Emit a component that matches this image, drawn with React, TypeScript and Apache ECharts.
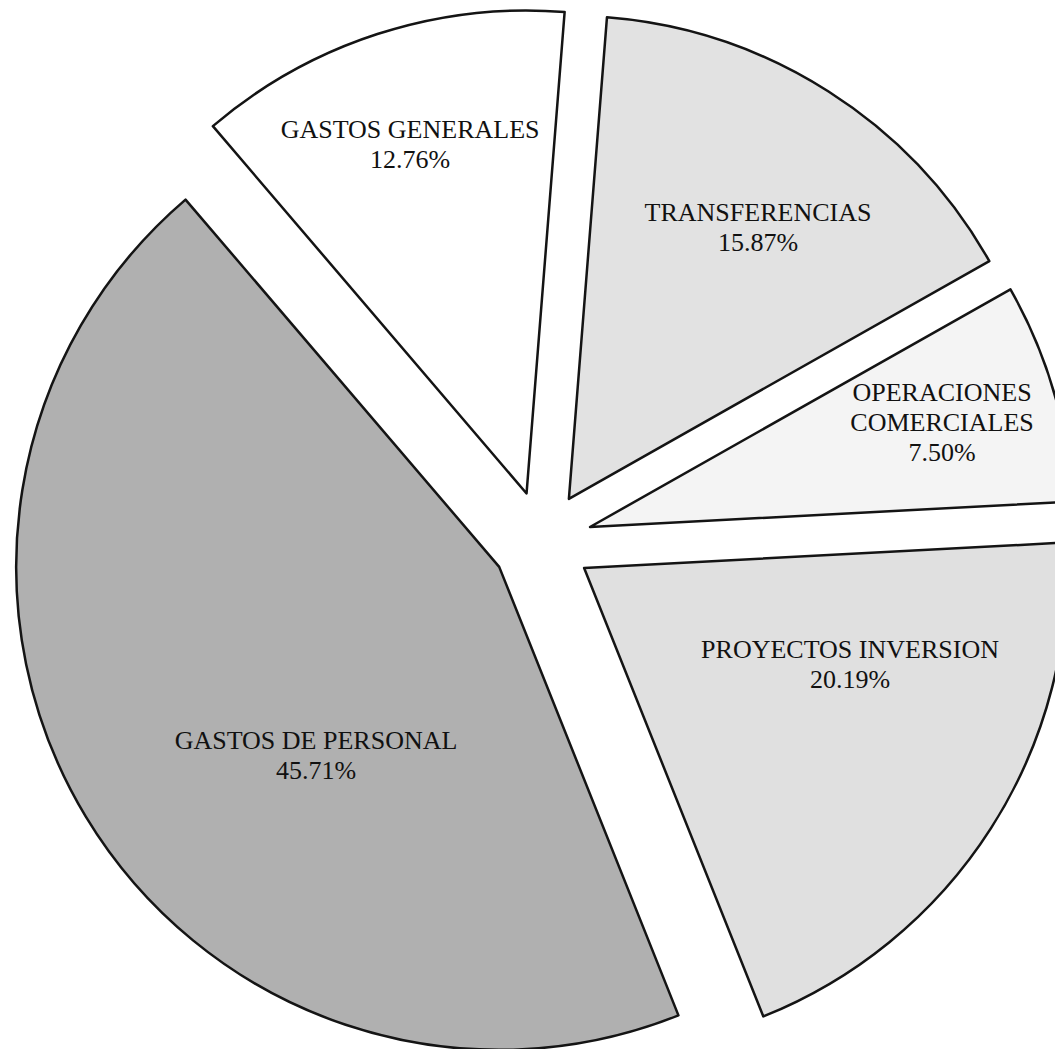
import React, { useEffect, useRef } from "react";
import * as echarts from "echarts";

const CATEGORIES = [
  "GASTOS GENERALES",
  "TRANSFERENCIAS",
  "OPERACIONES COMERCIALES",
  "PROYECTOS INVERSION",
  "GASTOS DE PERSONAL",
];
const PERCENTAGES = [12.76, 15.87, 7.5, 20.19, 45.71];

const COLORS = ["#ffffff", "#e2e2e2", "#f4f4f4", "#e0e0e0", "#b0b0b0"];
// label placement (fraction of radius, angle in degrees) measured from each slice's apex
const LABEL_RADIUS = [0.7625, 0.684, 0.76, 0.586, 0.545];
const LABEL_ANGLE = [108.44, 55.08, 16.46, -20.04, 225.9];

const START_ANGLE = 130.5;
const RADIUS = 483;
const OFFSET = 50;
const CENTER = [542, 541];

function wrapName(name: string): string {
  return name.length > 20 ? name.replace(" ", "\n") : name;
}

export default function App() {
  const ref = useRef<HTMLDivElement>(null);
  useEffect(() => {
    const chart = echarts.init(ref.current!, null, { renderer: "svg" });
    const total = PERCENTAGES.reduce((a, b) => a + b, 0);
    let acc = START_ANGLE;
    const labelPos: number[][] = [];
    CATEGORIES.forEach((_, i) => {
      const sweep = (PERCENTAGES[i] / total) * 360;
      const mid = ((acc - sweep / 2) * Math.PI) / 180;
      acc -= sweep;
      const apexX = CENTER[0] + Math.cos(mid) * OFFSET;
      const apexY = CENTER[1] - Math.sin(mid) * OFFSET;
      const a = (LABEL_ANGLE[i] * Math.PI) / 180;
      labelPos.push([
        apexX + Math.cos(a) * RADIUS * LABEL_RADIUS[i],
        apexY - Math.sin(a) * RADIUS * LABEL_RADIUS[i],
      ]);
    });

    const slices = CATEGORIES.map((name, i) => ({
      name,
      value: PERCENTAGES[i],
      selected: true,
      itemStyle: { color: COLORS[i] },
    }));
    const labels = CATEGORIES.map((name, i) => ({ name, value: PERCENTAGES[i] }));

    chart.setOption({
      animation: false,
      backgroundColor: "#ffffff",
      series: [
        {
          type: "pie",
          center: CENTER,
          radius: [0, RADIUS],
          startAngle: START_ANGLE,
          clockwise: true,
          selectedMode: "multiple",
          selectedOffset: OFFSET,
          silent: true,
          itemStyle: { borderColor: "#141414", borderWidth: 2.5 },
          select: { itemStyle: { borderColor: "#141414", borderWidth: 2.5 } },
          emphasis: { disabled: true },
          label: { show: false },
          labelLine: { show: false },
          data: slices,
        },
        {
          type: "pie",
          center: CENTER,
          radius: [0, RADIUS],
          startAngle: START_ANGLE,
          clockwise: true,
          silent: true,
          avoidLabelOverlap: false,
          z: 3,
          itemStyle: { color: "rgba(0,0,0,0)", borderWidth: 0 },
          emphasis: { disabled: true },
          label: {
            show: true,
            position: "inside",
            rotate: 0,
            fontFamily: "Liberation Serif",
            fontSize: 26,
            lineHeight: 30,
            color: "#111111",
            align: "center",
            formatter: (p: any) => `${wrapName(p.name)}\n${Number(p.value).toFixed(2)}%`,
          },
          labelLayout: (params: any) => {
            const pos = labelPos[params.dataIndex];
            return { x: pos[0], y: pos[1], align: "center", verticalAlign: "middle" };
          },
          labelLine: { show: false },
          data: labels,
        },
      ],
    });
    return () => chart.dispose();
  }, []);
  return (
    <div
      ref={ref}
      style={{ position: "absolute", left: 0, top: 0, width: 1055, height: 1049 }}
    />
  );
}
